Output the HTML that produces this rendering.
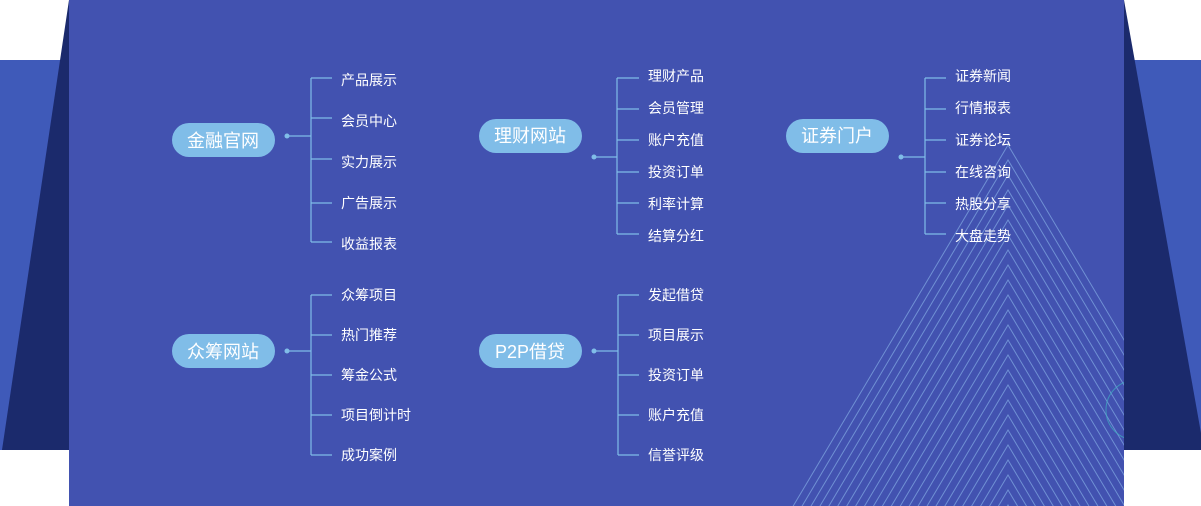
<!DOCTYPE html>
<html><head><meta charset="utf-8"><style>
html,body{margin:0;padding:0;background:#fff;width:1201px;height:506px;overflow:hidden;}
svg{display:block;}
text{font-family:"Liberation Sans","Noto Sans CJK SC",sans-serif;fill:#fff;}
</style></head><body>
<svg width="1201" height="506" viewBox="0 0 1201 506" xmlns="http://www.w3.org/2000/svg">
<defs><clipPath id="p"><rect x="69" y="0" width="1055" height="506"/></clipPath></defs>
<rect x="0" y="60" width="1201" height="390" fill="#3f5ab9"/>
<polygon points="69,0 69,450 2,450" fill="#1b2a6c"/>
<polygon points="1124,0 1204,450 1124,450" fill="#1b2a6c"/>
<rect x="69" y="0" width="1055" height="506" fill="#4252b0"/>
<g clip-path="url(#p)" fill="none" stroke="#7fa6e0" stroke-opacity="0.75" stroke-width="1">
<polyline points="770,545 1008,145 1246,545"/>
<polyline points="770,560 1008,160 1246,560"/>
<polyline points="770,575 1008,175 1246,575"/>
<polyline points="770,590 1008,190 1246,590"/>
<polyline points="770,605 1008,205 1246,605"/>
<polyline points="770,620 1008,220 1246,620"/>
<polyline points="770,635 1008,235 1246,635"/>
<polyline points="770,650 1008,250 1246,650"/>
<polyline points="770,665 1008,265 1246,665"/>
<polyline points="770,680 1008,280 1246,680"/>
<polyline points="770,695 1008,295 1246,695"/>
<polyline points="770,710 1008,310 1246,710"/>
<polyline points="770,725 1008,325 1246,725"/>
<polyline points="770,740 1008,340 1246,740"/>
<polyline points="770,755 1008,355 1246,755"/>
<polyline points="770,770 1008,370 1246,770"/>
<polyline points="770,785 1008,385 1246,785"/>
<polyline points="770,800 1008,400 1246,800"/>
<polyline points="770,815 1008,415 1246,815"/>
<polyline points="770,830 1008,430 1246,830"/>
<polyline points="770,845 1008,445 1246,845"/>
<polyline points="770,860 1008,460 1246,860"/>
<polyline points="770,875 1008,475 1246,875"/>
<polyline points="770,890 1008,490 1246,890"/>
<polyline points="770,905 1008,505 1246,905"/>
<circle cx="1136" cy="410" r="30" stroke="#3fb0c0" stroke-opacity="0.7"/>
</g>

<g stroke="#80bde8" stroke-width="1.2" fill="none">
<path d="M287,136H311M311,78V242M311,78H332M311,118H332M311,159H332M311,203H332M311,242H332"/>
<path d="M594,157H617M617,78V234M617,78H639M617,109H639M617,140H639M617,172H639M617,203H639M617,234H639"/>
<path d="M901,157H925M925,78V234M925,78H946M925,109H946M925,140H946M925,172H946M925,203H946M925,234H946"/>
<path d="M287,351H311M311,295V455M311,295H332M311,335H332M311,375H332M311,415H332M311,455H332"/>
<path d="M594,351H618M618,295V455M618,295H639M618,335H639M618,375H639M618,415H639M618,455H639"/>
</g>
<g fill="#80bde8">
<circle cx="287" cy="136" r="2.5"/><circle cx="594" cy="157" r="2.5"/><circle cx="901" cy="157" r="2.5"/>
<circle cx="287" cy="351" r="2.5"/><circle cx="594" cy="351" r="2.5"/>
<rect x="172" y="123" width="103" height="34" rx="17"/>
<rect x="479" y="119" width="103" height="34" rx="17"/>
<rect x="786" y="119" width="103" height="34" rx="17"/>
<rect x="172" y="334" width="103" height="34" rx="17"/>
<rect x="479" y="334" width="103" height="34" rx="17"/>
</g>
<g font-size="18" text-anchor="middle">
<text x="223" y="147">金融官网</text>
<text x="530" y="142">理财网站</text>
<text x="837" y="142">证券门户</text>
<text x="223" y="358">众筹网站</text>
<text x="530" y="358">P2P借贷</text>
</g>
<g font-size="14">
<text x="341" y="85">产品展示</text><text x="341" y="126">会员中心</text><text x="341" y="167">实力展示</text><text x="341" y="208">广告展示</text><text x="341" y="249">收益报表</text>
<text x="648" y="81">理财产品</text><text x="648" y="113">会员管理</text><text x="648" y="145">账户充值</text><text x="648" y="177">投资订单</text><text x="648" y="209">利率计算</text><text x="648" y="241">结算分红</text>
<text x="955" y="81">证券新闻</text><text x="955" y="113">行情报表</text><text x="955" y="145">证券论坛</text><text x="955" y="177">在线咨询</text><text x="955" y="209">热股分享</text><text x="955" y="241">大盘走势</text>
<text x="341" y="300">众筹项目</text><text x="341" y="340">热门推荐</text><text x="341" y="380">筹金公式</text><text x="341" y="420">项目倒计时</text><text x="341" y="460">成功案例</text>
<text x="648" y="300">发起借贷</text><text x="648" y="340">项目展示</text><text x="648" y="380">投资订单</text><text x="648" y="420">账户充值</text><text x="648" y="460">信誉评级</text>
</g>
</svg>
</body></html>
